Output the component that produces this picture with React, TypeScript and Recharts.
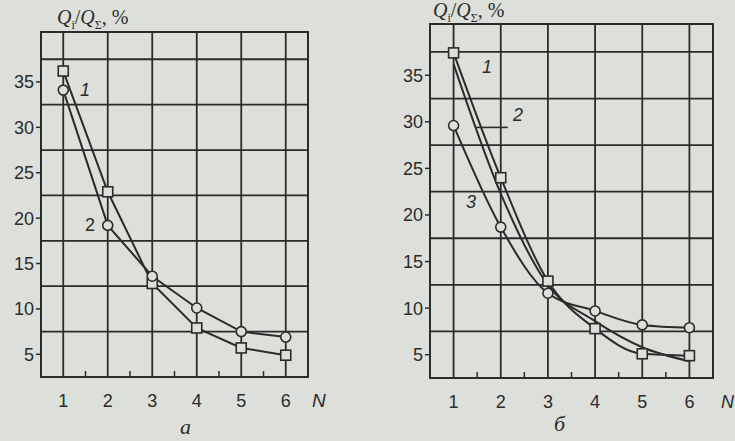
import React from "react";
import {
  LineChart,
  Line,
  XAxis,
  YAxis,
  CartesianGrid,
  ReferenceArea,
  ReferenceLine,
} from "recharts";

const BG = "#dcdfda";
const INK = "#2b2b2b";
const SANS = "'Liberation Sans', Arial, sans-serif";
const SERIF = "'Liberation Serif', 'Times New Roman', serif";

const N = [1, 2, 3, 4, 5, 6];
const X_TICKS = [1, 1.5, 2, 2.5, 3, 3.5, 4, 4.5, 5, 5.5, 6];
const Y_TICKS = [5, 10, 15, 20, 25, 30, 35];
const H_GRID = [7.5, 12.5, 17.5, 22.5, 27.5, 32.5, 37.5];

// chart "а"
const a1 = [36.2, 22.9, 12.8, 7.9, 5.7, 4.9];
const a2 = [34.1, 19.2, 13.6, 10.1, 7.5, 6.9];
// chart "б"
const b1 = [37.4, 24.0, 12.9, 7.8, 5.1, 4.9];
const b2 = [36.2, 22.3, 12.5, 8.6, 5.8, 4.3];
const b3 = [29.6, 18.7, 11.6, 9.7, 8.2, 7.9];

const dataA = N.map((n, i) => ({ n, s1: a1[i], s2: a2[i] }));
const dataB = N.map((n, i) => ({ n, s1: b1[i], s2: b2[i], s3: b3[i] }));

// integer ticks get a label, half ticks get a short inward mark
const XTick = ({ x, y, payload }: any) => {
  const v = payload.value;
  if (v % 1 !== 0) {
    return <line x1={x} x2={x} y1={y} y2={y - 6} stroke={INK} strokeWidth={1.5} />;
  }
  return (
    <text x={x} y={y + 30} textAnchor="middle" fontSize={18} fill={INK} fontFamily={SANS}>
      {v}
    </text>
  );
};

const SquareDot = (p: any) => (
  <rect
    key={`sq-${p.index}`}
    x={p.cx - 5}
    y={p.cy - 5}
    width={10}
    height={10}
    fill={BG}
    stroke={INK}
    strokeWidth={1.6}
  />
);

const circleDot = { r: 5, fill: BG, stroke: INK, strokeWidth: 1.6 };

function axes() {
  return [
    <CartesianGrid
      key="grid"
      horizontalValues={H_GRID}
      verticalValues={N}
      stroke={INK}
      strokeWidth={1.8}
    />,
    <XAxis
      key="x"
      dataKey="n"
      type="number"
      domain={[0.5, 6.5]}
      ticks={X_TICKS}
      interval={0}
      tickLine={false}
      tickSize={0}
      tickMargin={0}
      height={30}
      axisLine={{ stroke: INK, strokeWidth: 2 }}
      tick={<XTick />}
    />,
    <YAxis
      key="y"
      type="number"
      domain={[2.5, 40.5]}
      ticks={Y_TICKS}
      interval={0}
      width={41}
      tickSize={5}
      tickMargin={2}
      axisLine={{ stroke: INK, strokeWidth: 2 }}
      tickLine={{ stroke: INK, strokeWidth: 1.5 }}
      tick={{ fill: INK, fontSize: 18, fontFamily: SANS }}
    />,
    <ReferenceArea
      key="frame"
      x1={0.5}
      x2={6.5}
      y1={2.5}
      y2={40.5}
      fill="none"
      stroke={INK}
      strokeWidth={2}
      fillOpacity={0}
    />,
  ];
}

const Lbl = ({ x, y, text, italic = true, size = 18 }: any) => (
  <div
    style={{
      position: "absolute",
      left: x,
      top: y,
      fontFamily: SANS,
      fontStyle: italic ? "italic" : "normal",
      fontSize: size,
      color: INK,
      lineHeight: 1,
    }}
  >
    {text}
  </div>
);

const Title = ({ x, y }: any) => (
  <div
    style={{
      position: "absolute",
      left: x,
      top: y,
      fontFamily: SERIF,
      fontSize: 20,
      color: INK,
      lineHeight: 1,
      whiteSpace: "nowrap",
    }}
  >
    <i>Q</i>
    <sub style={{ fontSize: 12 }}>i</sub>/<i>Q</i>
    <sub style={{ fontSize: 12 }}>Σ</sub>, %
  </div>
);

export default function App() {
  return (
    <div
      style={{
        position: "absolute",
        left: 0,
        top: 0,
        width: 735,
        height: 441,
        background: BG,
        overflow: "hidden",
      }}
    >
      <div style={{ position: "absolute", left: 0, top: 0 }}>
        <LineChart
          width={330}
          height={441}
          data={dataA}
          margin={{ top: 32, right: 22, left: 0, bottom: 34 }}
        >
          {axes()}
          <Line
            dataKey="s1"
            type="linear"
            stroke={INK}
            strokeWidth={2}
            dot={SquareDot}
            isAnimationActive={false}
          />
          <Line
            dataKey="s2"
            type="linear"
            stroke={INK}
            strokeWidth={2}
            dot={circleDot}
            isAnimationActive={false}
          />
        </LineChart>
      </div>
      <div style={{ position: "absolute", left: 365, top: 0 }}>
        <LineChart
          width={370}
          height={441}
          data={dataB}
          margin={{ top: 24, right: 22, left: 24, bottom: 33 }}
        >
          {axes()}
          <ReferenceLine
            segment={[
              { x: 1.48, y: 29.4 },
              { x: 2.15, y: 29.4 },
            ]}
            stroke={INK}
            strokeWidth={1.6}
          />
          <Line
            dataKey="s1"
            type="monotone"
            stroke={INK}
            strokeWidth={2}
            dot={SquareDot}
            isAnimationActive={false}
          />
          <Line
            dataKey="s2"
            type="monotone"
            stroke={INK}
            strokeWidth={2}
            dot={false}
            isAnimationActive={false}
          />
          <Line
            dataKey="s3"
            type="monotone"
            stroke={INK}
            strokeWidth={2}
            dot={circleDot}
            isAnimationActive={false}
          />
        </LineChart>
      </div>

      <Title x={57} y={7} />
      <Title x={433} y={0} />

      <Lbl x={80} y={81} text="1" />
      <Lbl x={85} y={216} text="2" italic={false} />
      <Lbl x={482} y={58} text="1" />
      <Lbl x={513} y={106} text="2" />
      <Lbl x={466} y={193} text="3" />

      <Lbl x={312} y={391} text="N" size={19} />
      <Lbl x={721} y={393} text="N" size={18} />

      <div
        style={{
          position: "absolute",
          left: 180,
          top: 416,
          fontFamily: SERIF,
          fontStyle: "italic",
          fontSize: 22,
          color: INK,
          lineHeight: 1,
        }}
      >
        а
      </div>
      <div
        style={{
          position: "absolute",
          left: 554,
          top: 413,
          fontFamily: SERIF,
          fontStyle: "italic",
          fontSize: 22,
          color: INK,
          lineHeight: 1,
        }}
      >
        б
      </div>
    </div>
  );
}
